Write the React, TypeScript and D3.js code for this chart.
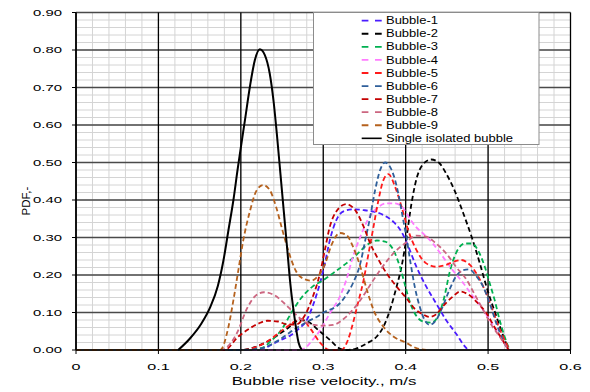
import * as d3 from 'd3';
import React from 'react';

// velocity (m/s) vs PDF
const bubble1 = [[0, 0], [0.1, 0], [0.2, 0], [0.224, 0], [0.236, 0.013], [0.249, 0.027], [0.261, 0.04], [0.271, 0.058], [0.279, 0.076], [0.287, 0.116], [0.296, 0.178], [0.302, 0.231], [0.308, 0.293], [0.316, 0.347], [0.324, 0.369], [0.336, 0.375], [0.349, 0.373], [0.361, 0.369], [0.373, 0.36], [0.385, 0.342], [0.395, 0.315], [0.401, 0.288], [0.413, 0.222], [0.425, 0.169], [0.437, 0.124], [0.449, 0.08], [0.461, 0.044], [0.472, 0.009], [0.476, 0]];
const bubble2 = [[0, 0], [0.1, 0], [0.2, 0], [0.23, 0.02], [0.255, 0.055], [0.272, 0.08], [0.282, 0.075], [0.294, 0.053], [0.308, 0.027], [0.32, 0.004], [0.328, 0], [0.34, 0.004], [0.353, 0.018], [0.365, 0.036], [0.373, 0.062], [0.381, 0.107], [0.389, 0.169], [0.395, 0.222], [0.401, 0.3], [0.407, 0.39], [0.413, 0.455], [0.421, 0.495], [0.431, 0.508], [0.441, 0.498], [0.449, 0.471], [0.459, 0.427], [0.47, 0.364], [0.48, 0.302], [0.49, 0.231], [0.498, 0.169], [0.51, 0.09], [0.518, 0.04], [0.525, 0]];
const bubble3 = [[0, 0], [0.1, 0], [0.2, 0], [0.225, 0.005], [0.238, 0.027], [0.249, 0.053], [0.261, 0.098], [0.273, 0.138], [0.287, 0.169], [0.3, 0.186], [0.312, 0.205], [0.328, 0.231], [0.34, 0.253], [0.353, 0.28], [0.365, 0.292], [0.375, 0.289], [0.385, 0.267], [0.393, 0.222], [0.399, 0.175], [0.404, 0.135], [0.411, 0.098], [0.421, 0.076], [0.431, 0.073], [0.439, 0.089], [0.447, 0.142], [0.453, 0.204], [0.461, 0.258], [0.472, 0.284], [0.48, 0.284], [0.49, 0.256], [0.496, 0.222], [0.502, 0.178], [0.508, 0.133], [0.514, 0.08], [0.52, 0.036], [0.526, 0]];
const bubble4 = [[0, 0], [0.1, 0], [0.2, 0], [0.27, 0], [0.277, 0.004], [0.287, 0.027], [0.297, 0.055], [0.308, 0.098], [0.32, 0.142], [0.328, 0.187], [0.336, 0.249], [0.345, 0.302], [0.355, 0.351], [0.365, 0.378], [0.377, 0.391], [0.387, 0.391], [0.397, 0.378], [0.405, 0.35], [0.413, 0.327], [0.421, 0.311], [0.433, 0.284], [0.445, 0.249], [0.457, 0.213], [0.47, 0.178], [0.482, 0.142], [0.494, 0.107], [0.505, 0.07], [0.515, 0.035], [0.525, 0]];
const bubble5 = [[0, 0], [0.1, 0], [0.2, 0], [0.23, 0.02], [0.255, 0.06], [0.273, 0.083], [0.285, 0.055], [0.296, 0.02], [0.308, 0], [0.322, 0], [0.33, 0.027], [0.336, 0.071], [0.342, 0.124], [0.349, 0.187], [0.355, 0.258], [0.361, 0.329], [0.367, 0.4], [0.373, 0.453], [0.379, 0.469], [0.387, 0.436], [0.395, 0.382], [0.403, 0.32], [0.413, 0.267], [0.425, 0.231], [0.437, 0.222], [0.449, 0.227], [0.459, 0.236], [0.467, 0.24], [0.478, 0.227], [0.488, 0.196], [0.496, 0.16], [0.504, 0.116], [0.512, 0.067], [0.52, 0.027], [0.526, 0]];
const bubble6 = [[0, 0], [0.1, 0], [0.2, 0], [0.224, 0.004], [0.245, 0.025], [0.265, 0.055], [0.28, 0.075], [0.292, 0.088], [0.302, 0.102], [0.312, 0.111], [0.32, 0.124], [0.328, 0.147], [0.336, 0.178], [0.345, 0.231], [0.351, 0.293], [0.357, 0.356], [0.363, 0.427], [0.369, 0.48], [0.375, 0.5], [0.383, 0.48], [0.391, 0.418], [0.397, 0.347], [0.401, 0.3], [0.406, 0.231], [0.411, 0.169], [0.417, 0.116], [0.423, 0.08], [0.429, 0.067], [0.437, 0.08], [0.445, 0.116], [0.453, 0.16], [0.461, 0.196], [0.47, 0.213], [0.477, 0.215], [0.486, 0.196], [0.494, 0.169], [0.502, 0.124], [0.51, 0.071], [0.518, 0.027], [0.524, 0]];
const bubble7 = [[0, 0], [0.1, 0], [0.18, 0], [0.197, 0.036], [0.211, 0.058], [0.222, 0.071], [0.232, 0.078], [0.245, 0.076], [0.257, 0.068], [0.267, 0.068], [0.277, 0.09], [0.287, 0.14], [0.296, 0.204], [0.302, 0.267], [0.308, 0.329], [0.316, 0.37], [0.328, 0.389], [0.34, 0.369], [0.349, 0.329], [0.357, 0.284], [0.365, 0.249], [0.377, 0.204], [0.389, 0.169], [0.401, 0.138], [0.411, 0.11], [0.421, 0.095], [0.429, 0.088], [0.437, 0.095], [0.445, 0.116], [0.457, 0.142], [0.466, 0.156], [0.476, 0.148], [0.488, 0.124], [0.498, 0.098], [0.508, 0.06], [0.518, 0.025], [0.525, 0]];
const bubble8 = [[0, 0], [0.1, 0], [0.175, 0], [0.181, 0.004], [0.195, 0.044], [0.208, 0.113], [0.218, 0.145], [0.228, 0.154], [0.24, 0.147], [0.253, 0.124], [0.265, 0.098], [0.277, 0.076], [0.289, 0.067], [0.301, 0.065], [0.312, 0.067], [0.328, 0.089], [0.345, 0.133], [0.361, 0.187], [0.375, 0.231], [0.387, 0.262], [0.399, 0.284], [0.413, 0.305], [0.425, 0.302], [0.437, 0.284], [0.449, 0.258], [0.461, 0.222], [0.474, 0.187], [0.484, 0.147], [0.494, 0.107], [0.504, 0.067], [0.514, 0.036], [0.525, 0]];
const bubble9 = [[0, 0], [0.1, 0], [0.175, 0], [0.185, 0.062], [0.191, 0.133], [0.197, 0.213], [0.203, 0.293], [0.211, 0.37], [0.219, 0.425], [0.227, 0.44], [0.235, 0.427], [0.243, 0.38], [0.251, 0.315], [0.259, 0.255], [0.267, 0.21], [0.276, 0.19], [0.285, 0.185], [0.294, 0.198], [0.302, 0.228], [0.31, 0.28], [0.32, 0.312], [0.328, 0.307], [0.336, 0.276], [0.345, 0.222], [0.353, 0.16], [0.361, 0.107], [0.373, 0.062], [0.385, 0.036], [0.4, 0.02], [0.413, 0.005], [0.425, 0]];
const single = [[0.124, 0], [0.138, 0.03], [0.152, 0.07], [0.163, 0.115], [0.172, 0.17], [0.179, 0.24], [0.185, 0.32], [0.191, 0.4], [0.196, 0.48], [0.2, 0.54], [0.205, 0.613], [0.211, 0.702], [0.217, 0.773], [0.223, 0.802], [0.229, 0.787], [0.235, 0.738], [0.24, 0.658], [0.244, 0.569], [0.248, 0.471], [0.252, 0.373], [0.256, 0.276], [0.26, 0.178], [0.265, 0.089], [0.27, 0.02], [0.274, 0]];

const seriesNames = ['Bubble-1', 'Bubble-2', 'Bubble-3', 'Bubble-4', 'Bubble-5', 'Bubble-6', 'Bubble-7', 'Bubble-8', 'Bubble-9', 'Single isolated bubble'];
const seriesData = [bubble1, bubble2, bubble3, bubble4, bubble5, bubble6, bubble7, bubble8, bubble9, single];
const colors = ['#4a1cff', '#000000', '#00b050', '#ff7cff', '#ff1a1a', '#2f5f9a', '#c40000', '#cc6680', '#b5611d', '#000000'];

const xTicks = [0, 0.1, 0.2, 0.3, 0.4, 0.5, 0.6];
const yTicks = [0, 0.1, 0.2, 0.3, 0.4, 0.5, 0.6, 0.7, 0.8, 0.9];

const W = 590, H = 392;
const FONT = '"Liberation Sans", Arial, sans-serif';

export default function App() {
  const x = d3.scaleLinear().domain([0, 0.6]).range([76, 570.5]);
  const y = d3.scaleLinear().domain([0, 0.9]).range([350, 12.5]);

  const minorX = d3.range(0, 0.6001, 0.02);
  const minorY = d3.range(0, 0.9001, 0.02);

  const line = d3.line()
    .x((d) => x(d[0]))
    .y((d) => y(d[1]))
    .curve(d3.curveMonotoneX);

  const legX = 313.5, legY = 12.5, rowH = 13.07;

  return (
    <svg width={W} height={H} style={{ position: 'absolute', left: 0, top: 0, background: '#fff' }}>
      <rect x={0} y={0} width={W} height={H} fill="#fff" />

      {/* minor grid */}
      <g stroke="#d4d4d4" strokeWidth={1}>
        {minorX.map((v, i) => <line key={'mx' + i} x1={x(v)} x2={x(v)} y1={y(0)} y2={y(0.9)} />)}
        {minorY.map((v, i) => <line key={'my' + i} x1={x(0)} x2={x(0.6)} y1={y(v)} y2={y(v)} />)}
      </g>

      {/* major grid */}
      <g>
        {yTicks.map((v) => <line key={'gy' + v} x1={x(0)} x2={x(0.6)} y1={y(v)} y2={y(v)} stroke="#4a4a4a" strokeWidth={1.4} />)}
        {xTicks.map((v) => <line key={'gx' + v} x1={x(v)} x2={x(v)} y1={y(0)} y2={y(0.9)} stroke="#000" strokeWidth={1.3} />)}
      </g>

      {/* curves */}
      <g fill="none">
        {seriesData.map((d, i) => (
          <path key={seriesNames[i]} d={line(d)} stroke={colors[i]}
            strokeWidth={i === 9 ? 2 : 1.8}
            strokeDasharray={i === 9 ? null : '5,3'} />
        ))}
      </g>

      {/* axes */}
      <g stroke="#000" strokeWidth={1.5}>
        <line x1={x(0)} x2={x(0)} y1={y(0)} y2={y(0.9)} />
        <line x1={x(0)} x2={x(0.6)} y1={y(0)} y2={y(0)} />
        {yTicks.map((v) => <line key={'ty' + v} x1={x(0) - 4} x2={x(0)} y1={y(v)} y2={y(v)} strokeWidth={1} />)}
        {xTicks.map((v) => <line key={'tx' + v} x1={x(v)} x2={x(v)} y1={y(0)} y2={y(0) + 4} strokeWidth={1} />)}
      </g>

      <g fontFamily={FONT} fontSize={8.5} fill="#000">
        {yTicks.map((v) => (
          <text key={'ly' + v} transform={`translate(62,${y(v) + 3.2}) scale(1.75,1)`} textAnchor="end">
            {d3.format('.2f')(v)}
          </text>
        ))}
        {xTicks.map((v) => (
          <text key={'lx' + v} transform={`translate(${x(v)},370) scale(1.9,1)`} textAnchor="middle">
            {v === 0 ? '0' : String(v)}
          </text>
        ))}
      </g>

      <text transform="translate(324,385) scale(1.53,1)" textAnchor="middle" fontFamily={FONT} fontSize={11}>
        Bubble rise velocity., m/s
      </text>
      <text transform="translate(29.5,201) rotate(-90)" textAnchor="middle" fontFamily={FONT} fontSize={11.5}>
        PDF,-
      </text>

      {/* legend */}
      <rect x={legX} y={legY} width={225.5} height={132} fill="#fff" stroke="#8c8c8c" strokeWidth={1} />
      {seriesNames.map((name, i) => {
        const ry = 20.7 + i * rowH;
        return (
          <g key={'leg' + i}>
            <line x1={361.7} x2={381.7} y1={ry} y2={ry} stroke={colors[i]}
              strokeWidth={i === 9 ? 1.6 : 1.8}
              strokeDasharray={i === 9 ? null : '6.7,6.6'} />
            <text transform={`translate(386,${ry + 3.6}) scale(1.3,1)`} fontFamily={FONT} fontSize={10}>
              {name}
            </text>
          </g>
        );
      })}
    </svg>
  );
}
